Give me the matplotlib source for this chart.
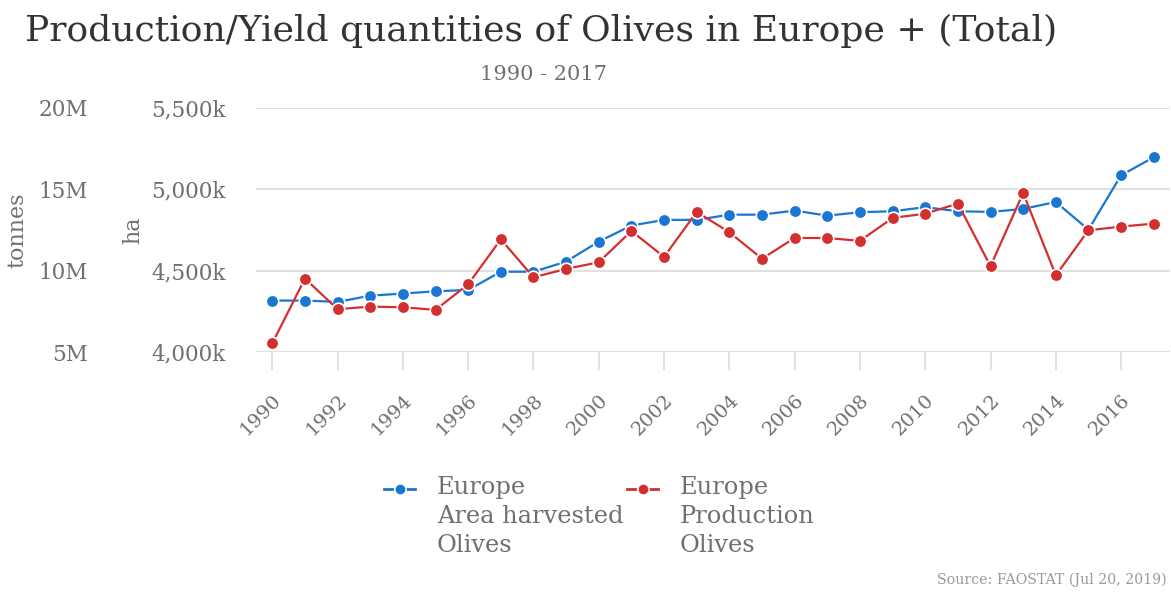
import matplotlib
matplotlib.use("Agg")
import matplotlib.pyplot as plt
from matplotlib.ticker import FuncFormatter
from matplotlib.lines import Line2D

years = list(range(1990, 2018))
area_ha = [4317, 4317, 4309, 4347, 4360, 4374, 4382, 4494, 4494, 4556,
           4679, 4777, 4812, 4812, 4844, 4844, 4869, 4838, 4859, 4865,
           4890, 4865, 4861, 4879, 4922, 4752, 5086, 5196]  # thousand ha
production_t = [5.55, 9.52, 7.64, 7.80, 7.76, 7.60, 9.17, 11.93, 9.60, 10.11,
                10.52, 12.44, 10.85, 13.61, 12.36, 10.74, 12.01, 12.01, 11.83, 13.24,
                13.50, 14.12, 10.28, 14.77, 9.72, 12.48, 12.71, 12.89]  # million tonnes
ha_ticks = [4000, 4500, 5000, 5500]
t_ticks = [5, 10, 15, 20]
series_names = ["Europe\nArea harvested\nOlives", "Europe\nProduction\nOlives"]

blue = "#1976d2"
red = "#d32f2f"
grey = "#6f6f6f"
plt.rcParams["font.family"] = ["DejaVu Serif"]

W, H = 1171, 592
fig = plt.figure(figsize=(W / 100, H / 100), dpi=100)
ax = fig.add_axes([0.2186, 0.405, 0.7806, 0.413])
ax2 = ax.twinx()

ax.plot(years, area_ha, color=blue, lw=1.6, marker="o", ms=9,
        mec="white", mew=1.2, zorder=3)
ax2.plot(years, production_t, color=red, lw=1.6, marker="o", ms=9,
         mec="white", mew=1.2, zorder=3)

ax.set_xlim(1989.5, 2017.5)
ax.set_ylim(4000, 5500)
ax2.set_ylim(5, 20)
ax.set_yticks(ha_ticks)
ax2.set_yticks(t_ticks)
ax.yaxis.set_major_formatter(FuncFormatter(lambda v, p: f"{int(v):,}k"))
ax2.yaxis.set_major_formatter(FuncFormatter(lambda v, p: f"{int(v)}M"))
ax2.yaxis.tick_left()
ax.tick_params(axis="y", length=0, pad=22, labelsize=15.5, labelcolor=grey)
ax2.tick_params(axis="y", length=0, pad=121, labelsize=15.5, labelcolor=grey)

ax.set_xticks(years[::2])
ax.tick_params(axis="x", length=13, width=1.2, color="#dddddd", pad=15,
               labelsize=14, labelcolor=grey)
for lab in ax.get_xticklabels():
    lab.set_rotation(45)
    lab.set_ha("right")
    lab.set_rotation_mode("anchor")

ax.grid(axis="y", color="#e0e0e0", lw=1.5)
ax.set_axisbelow(True)
for a in (ax, ax2):
    for s in a.spines.values():
        s.set_visible(False)

fig.text(17 / W, 1 - 230 / H, "tonnes", rotation=90, ha="center", va="center",
         fontsize=16, color=grey)
fig.text(133 / W, 1 - 230 / H, "ha", rotation=90, ha="center", va="center",
         fontsize=16, color=grey)

fig.text(25 / W, 1 - 31 / H, "Production/Yield quantities of Olives in Europe + (Total)",
         fontsize=26, color="#333333", va="center")
fig.text(544 / W, 1 - 75 / H, "1990 - 2017", fontsize=15, color=grey,
         ha="center", va="center")

# legend drawn by hand: handle on the first line of each label
for x0, col, name in [(384, blue, series_names[0]), (627, red, series_names[1])]:
    y = 1 - 489 / H
    for a0, a1 in [(x0, x0 + 8), (x0 + 23, x0 + 31)]:
        fig.add_artist(Line2D([a0 / W, a1 / W], [y, y], color=col, lw=2,
                              transform=fig.transFigure))
    fig.add_artist(Line2D([(x0 + 15.5) / W], [y], color=col, marker="o", ms=8,
                          mec="white", mew=1, transform=fig.transFigure))
    fig.text((x0 + 53) / W, 1 - 476 / H, name, fontsize=17.4, color=grey,
             va="top", ha="left", linespacing=1.32)

fig.text(1167 / W, 1 - 580 / H, "Source: FAOSTAT (Jul 20, 2019)", ha="right",
         va="center", fontsize=10.2, color="#999999")

fig.savefig("out.png", dpi=100)
